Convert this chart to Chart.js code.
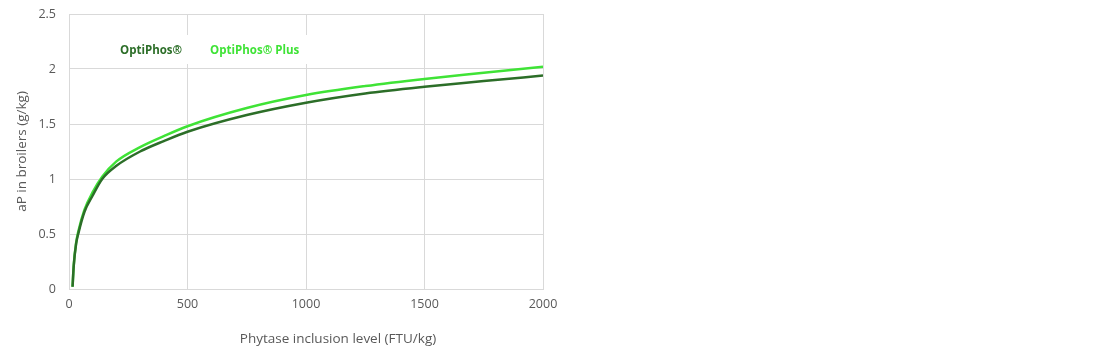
<!DOCTYPE html>
<html>
<head>
<meta charset="utf-8">
<script src="https://cdn.jsdelivr.net/npm/chart.js@4/dist/chart.umd.min.js"></script>
<style>
    html, body { margin: 0; padding: 0; background: #fff; }
    #wrap { position: relative; width: 570px; height: 364px; }
</style>
</head>
<body>
<div id="wrap"><canvas id="chart"></canvas></div>
<script>
// phytase dose (FTU/kg) and available P values
var doses = [15, 20, 30, 40, 65, 100, 140, 200, 300, 400, 500, 750, 1000, 1250, 1500, 1750, 2000];
var optiPhos = [0.02, 0.21, 0.41, 0.51, 0.70, 0.85, 1.0, 1.12, 1.25, 1.345, 1.43, 1.582, 1.694, 1.778, 1.839, 1.89, 1.94];
var optiPhosPlus = [0.02, 0.22, 0.42, 0.53, 0.72, 0.88, 1.02, 1.16, 1.29, 1.39, 1.48, 1.645, 1.763, 1.845, 1.91, 1.965, 2.02];
var seriesNames = ["OptiPhos\u00ae", "OptiPhos\u00ae Plus"];
var xTitle = "Phytase inclusion level (FTU/kg)";
var yTitle = "aP in broilers (g/kg)";

var darkGreen = '#2c6e28';
var lightGreen = '#3fe336';
var gridColor = '#d9d9d9';
var textColor = '#595959';

function toPoints(values) {
    return values.map((v, i) => ({ x: doses[i], y: v }));
}

/**
 * Draws the in-plot text legend on a white box and the x axis title
 */
var extras = {
    id: 'extras',
    afterDraw(chart) {
        var ctx = chart.ctx;
        ctx.save();
        // legend box
        ctx.fillStyle = '#fff';
        ctx.fillRect(108, 35, 202, 29);
        ctx.font = 'bold 11.5px "Open Sans"';
        ctx.textBaseline = 'middle';
        ctx.textAlign = 'left';
        var x = 120;
        chart.data.datasets.forEach(ds => {
            ctx.fillStyle = ds.borderColor;
            ctx.fillText(ds.label, x, 51);
            x += ctx.measureText(ds.label).width + 28;
        });
        // x axis title
        ctx.font = '13.5px "Open Sans"';
        ctx.fillStyle = textColor;
        ctx.textAlign = 'center';
        ctx.fillText(xTitle, 338, 339);
        ctx.restore();
    }
};

document.addEventListener("DOMContentLoaded", event => {
    new Chart(document.getElementById('chart'), {
        type: 'line',
        data: {
            datasets: [{
                label: seriesNames[0],
                data: toPoints(optiPhos),
                borderColor: darkGreen,
                borderWidth: 2.5,
                pointRadius: 0,
                cubicInterpolationMode: 'monotone',
                fill: false
            }, {
                label: seriesNames[1],
                data: toPoints(optiPhosPlus),
                borderColor: lightGreen,
                borderWidth: 2.5,
                pointRadius: 0,
                cubicInterpolationMode: 'monotone',
                fill: false
            }]
        },
        plugins: [extras],
        options: {
            responsive: true,
            maintainAspectRatio: false,
            animation: false,
            layout: { padding: { top: 14, right: 27, left: 0, bottom: 0 } },
            plugins: {
                legend: { display: false },
                tooltip: { enabled: false }
            },
            scales: {
                x: {
                    type: 'linear',
                    min: 0,
                    max: 2000,
                    ticks: {
                        stepSize: 500,
                        color: textColor,
                        padding: 8,
                        font: { family: '"Open Sans"', size: 12.5 },
                        callback: value => String(value)
                    },
                    grid: { color: gridColor, drawTicks: false },
                    border: { color: gridColor },
                    afterFit(axis) { axis.height = 75; }
                },
                y: {
                    min: 0,
                    max: 2.5,
                    ticks: {
                        stepSize: 0.5,
                        color: textColor,
                        padding: 13,
                        font: { family: '"Open Sans"', size: 12.5 },
                        callback: value => String(value)
                    },
                    title: {
                        display: true,
                        text: yTitle,
                        color: textColor,
                        padding: { top: 14, bottom: 0 },
                        font: { family: '"Open Sans"', size: 13.5 }
                    },
                    grid: { color: gridColor, drawTicks: false },
                    border: { color: gridColor },
                    afterFit(axis) {
                        axis.width = 69;
                        axis.paddingTop = 0; // tick padding otherwise pushes the top down
                        axis.paddingBottom = 0;
                    }
                }
            }
        }
    });
});
</script>
</body>
</html>
